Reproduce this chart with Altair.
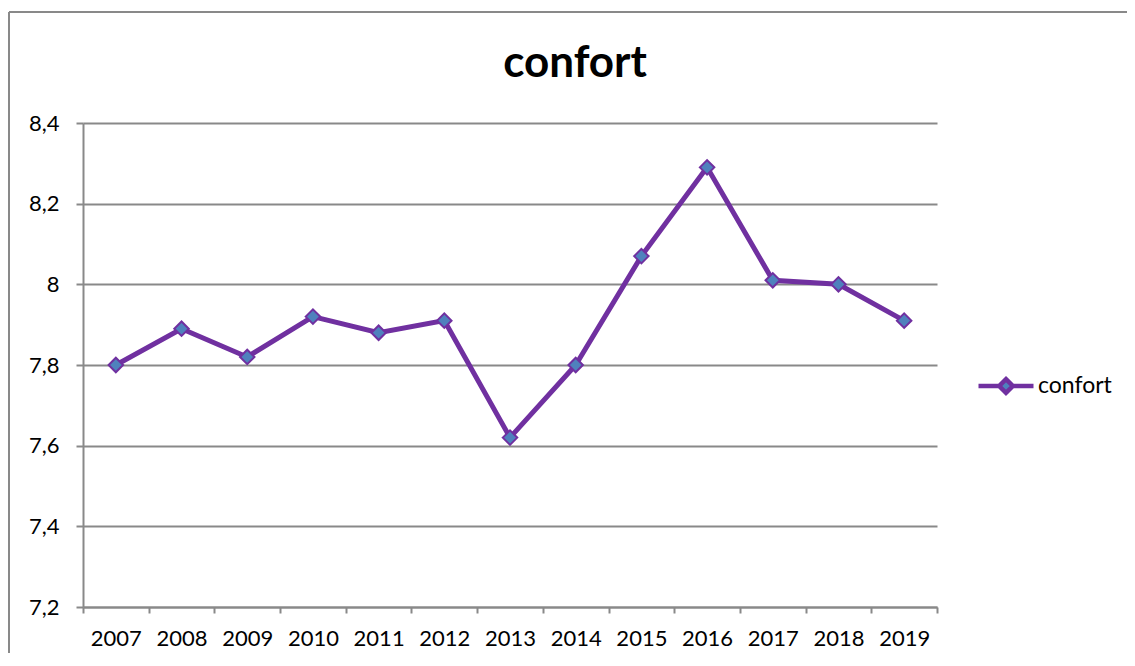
import altair as alt
import pandas as pd

years = ["2007", "2008", "2009", "2010", "2011", "2012", "2013",
         "2014", "2015", "2016", "2017", "2018", "2019"]
values = [7.80, 7.89, 7.82, 7.92, 7.88, 7.91, 7.62, 7.80, 8.07, 8.29, 8.01, 8.00, 7.91]
series = ["confort"] * len(years)
y_ticks = [7.2, 7.4, 7.6, 7.8, 8.0, 8.2, 8.4]
title_text = ["confort"]

df = pd.DataFrame({"year": years, "value": values, "series": series})

PURPLE = "#7030A0"
BLUE = "#4F81BD"
GREY = "#898989"
FONT = "Lato"

# legend symbol: line with a diamond in the middle (unit coords)
LEG_PATH = "M-1,0L-0.26,0M0.26,0L1,0M0,-0.25L0.25,0L0,0.25L-0.25,0Z"

x_enc = alt.X(
    "year:O",
    bandPosition=0.5,
    scale=alt.Scale(type="band", paddingInner=0, paddingOuter=0),
    axis=alt.Axis(
        title=None, labelAngle=0, tickBand="extent", grid=False,
        domainColor=GREY, domainWidth=2, tickColor=GREY, tickWidth=2, tickSize=6,
        labelFont=FONT, labelFontSize=22, labelColor="#000000", labelPadding=15,
    ),
)
y_enc = alt.Y(
    "value:Q",
    scale=alt.Scale(domain=[7.2, 8.4], nice=False, zero=False),
    axis=alt.Axis(
        title=None, values=y_ticks,
        labelExpr="replace(toString(round(datum.value*10)/10), '.', ',')",
        grid=True, gridColor=GREY, gridWidth=2,
        domainColor=GREY, domainWidth=2, tickColor=GREY, tickWidth=2, tickSize=7,
        labelFont=FONT, labelFontSize=22, labelColor="#000000", labelPadding=17,
    ),
)

base = alt.Chart(df)

line = base.mark_line(color=PURPLE, strokeWidth=5).encode(x=x_enc, y=y_enc)

points = base.mark_point(
    shape="diamond", filled=True, size=210, stroke=PURPLE, strokeWidth=2, opacity=1
).encode(
    x=x_enc,
    y=y_enc,
    fill=alt.Fill(
        "series:N",
        scale=alt.Scale(range=[BLUE]),
        legend=alt.Legend(
            title=None, orient="none", legendX=893, legendY=233,
            symbolType=LEG_PATH, symbolSize=3025,
            symbolStrokeColor=PURPLE, symbolStrokeWidth=4.5, symbolFillColor=BLUE,
            labelFont=FONT, labelFontSize=23, labelColor="#000000", labelOffset=2,
        ),
    ),
)

one = alt.Data(values=[{"t": t} for t in title_text])
title = alt.Chart(one).mark_text(
    font=FONT, fontSize=44, fontWeight="bold", color="#000000",
    align="center", baseline="alphabetic",
).encode(text="t:N", x=alt.value(492), y=alt.value(-46))

frame_top = alt.Chart(one).mark_rule(color=GREY, strokeWidth=2).encode(
    x=alt.value(-74), x2=alt.value(1200), y=alt.value(-111)
)
frame_left = alt.Chart(one).mark_rule(color=GREY, strokeWidth=2).encode(
    x=alt.value(-74), y=alt.value(-111), y2=alt.value(700)
)

chart = alt.layer(frame_top, frame_left, title, line, points).properties(
    width=854,
    height=484,
    autosize=alt.AutoSizeParams(type="none"),
    padding={"left": 75, "top": 115, "right": 190, "bottom": 46},
).configure_view(stroke=None)

chart.save("out.html", embed_options={"renderer": "svg", "actions": False})
